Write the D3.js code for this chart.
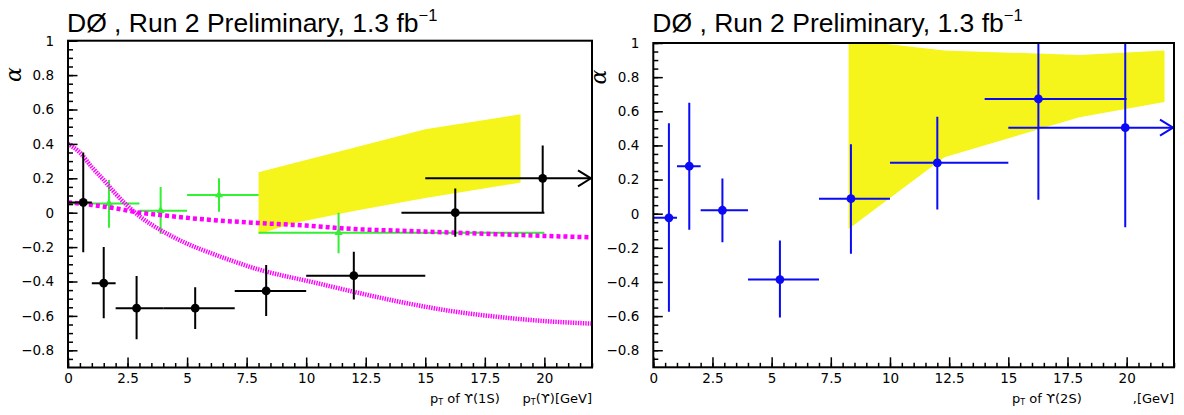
<!DOCTYPE html>
<html>
<head>
<meta charset="utf-8">
<script src="https://cdn.jsdelivr.net/npm/d3@7"></script>
<style>
body { margin: 0; background: #fff; }
svg { display: block; }
</style>
</head>
<body>
<svg width="1184" height="415"></svg>
<script>
var svg = d3.select('svg');

// axis ranges and ticks
var xDomain = [0, 22];
var yDomain = [-0.9, 1];
var xTickValues = [0, 2.5, 5, 7.5, 10, 12.5, 15, 17.5, 20];
var xTickLabels = ['0', '2.5', '5', '7.5', '10', '12.5', '15', '17.5', '20'];
var yTickValues = [-0.8, -0.6, -0.4, -0.2, 0, 0.2, 0.4, 0.6, 0.8, 1];
var yTickLabels = ['\u22120.8', '\u22120.6', '\u22120.4', '\u22120.2', '0', '0.2', '0.4', '0.6', '0.8', '1'];

// Upsilon(1S) polarization, black points
var ups1S_pt = [0.64, 1.5, 2.88, 5.34, 8.32, 12.0, 16.26, 19.93];
var ups1S_alpha = [0.06, -0.41, -0.555, -0.555, -0.455, -0.366, 0.0, 0.2];
var ups1S_ptLo = [0, 1, 2, 4, 7, 10, 14, 15];
var ups1S_ptHi = [1, 2, 4, 7, 10, 15, 20, 22];
var ups1S_errUp = [0.29, 0.21, 0.187, 0.121, 0.151, 0.139, 0.14, 0.19];
var ups1S_errDn = [0.29, 0.204, 0.181, 0.121, 0.145, 0.138, 0.14, 0.2];

// Upsilon(1S) other measurement, green triangles
var cdf_pt = [1.72, 3.89, 6.34, 11.36];
var cdf_alpha = [0.054, 0.012, 0.103, -0.116];
var cdf_ptLo = [0, 3, 5, 8];
var cdf_ptHi = [3, 5, 8, 20];
var cdf_errUp = [0.136, 0.138, 0.097, 0.116];
var cdf_errDn = [0.141, 0.136, 0.097, 0.12];

// theory band for 1S (yellow)
var band1S_pt = [8, 9.5, 12, 15, 19];
var band1S_hi = [0.235, 0.289, 0.378, 0.485, 0.572];
var band1S_lo = [-0.125, -0.06, 0.01, 0.085, 0.175];

// model curves (magenta)
var curveA_pt = [0, 0.5, 1, 1.5, 2, 2.5, 3, 4, 5, 6, 7, 8, 9, 10, 12, 14, 16, 18, 20, 22];
var curveA_alpha = [0.40, 0.35, 0.265, 0.19, 0.11, 0.04, -0.02, -0.11, -0.18, -0.235, -0.285, -0.33, -0.365, -0.395, -0.46, -0.52, -0.57, -0.605, -0.63, -0.645];
var curveB_pt = [0, 1, 2, 3, 4, 5, 6, 8, 10, 12, 14, 16, 18, 20, 22];
var curveB_alpha = [0.06, 0.045, 0.025, 0.0, -0.015, -0.03, -0.042, -0.06, -0.075, -0.095, -0.105, -0.115, -0.125, -0.135, -0.143];

// Upsilon(2S) polarization, blue points
var ups2S_pt = [0.66, 1.52, 2.92, 5.35, 8.35, 12.0, 16.27, 19.94];
var ups2S_alpha = [-0.024, 0.278, 0.02, -0.386, 0.088, 0.298, 0.672, 0.504];
var ups2S_ptLo = [0, 1, 2, 4, 7, 10, 14, 15];
var ups2S_ptHi = [1, 2, 4, 7, 10, 15, 20, 22];
var ups2S_errUp = [0.554, 0.372, 0.186, 0.229, 0.319, 0.27, 0.59, 0.583];
var ups2S_errDn = [0.551, 0.372, 0.187, 0.222, 0.323, 0.274, 0.59, 0.583];

// theory band for 2S (yellow)
var band2S_pt = [8.25, 12.3, 18, 21.6];
var band2S_hi = [1.02, 0.956, 0.93, 0.956];
var band2S_lo = [-0.09, 0.33, 0.565, 0.655];

var tickFont = 'DejaVu Sans';
var yellow = '#f5f51c';

function makePanel(id, left, right, top, bottom) {
    var p = {left: left, right: right, top: top, bottom: bottom};
    p.x = d3.scaleLinear().domain(xDomain).range([left, right]);
    p.y = d3.scaleLinear().domain(yDomain).range([bottom, top]);
    p.g = svg.append('g');
    p.g.append('clipPath').attr('id', id).append('rect')
        .attr('x', left).attr('y', top)
        .attr('width', right - left).attr('height', bottom - top);
    p.plot = p.g.append('g').attr('clip-path', 'url(#' + id + ')');
    return p;
}

function drawAxes(p, title, xTitle, xUnit) {
    var minorX = d3.range(0, 22.001, 0.5);
    var minorY = d3.range(-0.85, 1.001, 0.05);

    var ax = p.g.append('g').attr('transform', 'translate(0,' + p.bottom + ')');
    ax.call(d3.axisBottom(p.x).tickValues(minorX).tickSizeInner(-4.5).tickSizeOuter(0).tickFormat(''));
    ax.select('.domain').remove();
    var axM = p.g.append('g').attr('transform', 'translate(0,' + p.bottom + ')');
    axM.call(d3.axisBottom(p.x).tickValues(xTickValues).tickSizeInner(-10).tickSizeOuter(0).tickPadding(6)
        .tickFormat(function (d, i) { return xTickLabels[i]; }));
    axM.select('.domain').remove();

    var ay = p.g.append('g').attr('transform', 'translate(' + p.left + ',0)');
    ay.call(d3.axisLeft(p.y).tickValues(minorY).tickSizeInner(-5).tickSizeOuter(0).tickFormat(''));
    ay.select('.domain').remove();
    var ayM = p.g.append('g').attr('transform', 'translate(' + p.left + ',0)');
    ayM.call(d3.axisLeft(p.y).tickValues(yTickValues).tickSizeInner(-9.5).tickSizeOuter(0).tickPadding(14)
        .tickFormat(function (d, i) { return yTickLabels[i]; }));
    ayM.select('.domain').remove();

    p.g.selectAll('.tick line').attr('stroke', '#000').attr('stroke-width', 1.5);
    p.g.selectAll('.tick text').attr('font-family', tickFont).attr('font-size', 13.5).attr('fill', '#000');

    // frame
    p.g.append('rect')
        .attr('x', p.left).attr('y', p.top)
        .attr('width', p.right - p.left).attr('height', p.bottom - p.top)
        .attr('fill', 'none').attr('stroke', '#000').attr('stroke-width', 2);

    // title
    var t = svg.append('text')
        .attr('x', p.left - 1).attr('y', 32)
        .attr('font-family', 'Liberation Sans, Arial, sans-serif')
        .attr('font-size', 26.5).attr('fill', '#000');
    t.append('tspan').text(title);
    t.append('tspan').attr('font-size', 16.5).attr('dy', -11).text('\u22121');

    // y title
    svg.append('text')
        .attr('transform', 'translate(' + (p.left - 47) + ',' + (p.top + 34) + ') rotate(-90)')
        .attr('text-anchor', 'middle')
        .attr('font-family', 'DejaVu Serif, serif').attr('font-style', 'italic')
        .attr('font-size', 22).text('\u03b1');

    // x title
    var xt = svg.append('text')
        .attr('x', p.right - 162).attr('y', 403)
        .attr('font-family', tickFont).attr('font-size', 13);
    xt.append('tspan').text('p');
    xt.append('tspan').attr('font-size', 8).attr('dy', 2).text('T');
    xt.append('tspan').attr('dy', -2).text(' of ' + xTitle);
    svg.append('text')
        .attr('x', p.right).attr('y', 403).attr('text-anchor', 'end')
        .attr('font-family', tickFont).attr('font-size', 13)
        .call(function (s) {
            if (xUnit === 'full') {
                s.append('tspan').text('p');
                s.append('tspan').attr('font-size', 8).attr('dy', 2).text('T');
                s.append('tspan').attr('dy', -2).text('(\u03d2)[GeV]');
            } else {
                s.text(',[GeV]');
            }
        });
}

function drawBand(p, xs, lo, hi) {
    var rows = xs.map(function (d, i) { return {x: d, lo: lo[i], hi: hi[i]}; });
    var area = d3.area()
        .x(function (d) { return p.x(d.x); })
        .y0(function (d) { return p.y(d.lo); })
        .y1(function (d) { return p.y(d.hi); });
    p.plot.append('path').datum(rows).attr('d', area).attr('fill', yellow);
}

function drawCurve(p, xs, ys, dash, width) {
    var line = d3.line()
        .x(function (d) { return p.x(d[0]); })
        .y(function (d) { return p.y(d[1]); })
        .curve(d3.curveMonotoneX);
    p.plot.append('path').datum(d3.zip(xs, ys)).attr('d', line)
        .attr('fill', 'none').attr('stroke', '#ff00ff')
        .attr('stroke-width', width).attr('stroke-dasharray', dash);
}

function drawPoints(p, xs, ys, xlo, xhi, eUp, eDn, color, marker) {
    var rows = xs.map(function (d, i) {
        return {x: d, y: ys[i], lo: xlo[i], hi: xhi[i], up: eUp[i], dn: eDn[i]};
    });
    var g = p.plot.append('g').attr('stroke', color).attr('stroke-width', 2);
    g.selectAll('line.h').data(rows).enter().append('line')
        .attr('x1', function (d) { return p.x(d.lo); })
        .attr('x2', function (d) { return p.x(d.hi); })
        .attr('y1', function (d) { return p.y(d.y); })
        .attr('y2', function (d) { return p.y(d.y); });
    g.selectAll('line.v').data(rows).enter().append('line')
        .attr('x1', function (d) { return p.x(d.x); })
        .attr('x2', function (d) { return p.x(d.x); })
        .attr('y1', function (d) { return p.y(d.y + d.up); })
        .attr('y2', function (d) { return p.y(d.y - d.dn); });
    // open arrow for the last, open-ended bin
    g.selectAll('path.arrow').data(rows.filter(function (d) { return d.hi >= xDomain[1]; }))
        .enter().append('path')
        .attr('fill', 'none')
        .attr('d', function (d) {
            var ex = p.x(d.hi) - 1, ey = p.y(d.y);
            return 'M' + (ex - 13) + ',' + (ey - 8) + 'L' + ex + ',' + ey + 'L' + (ex - 13) + ',' + (ey + 8);
        });
    if (marker === 'circle') {
        p.plot.selectAll(null).data(rows).enter().append('circle')
            .attr('cx', function (d) { return p.x(d.x); })
            .attr('cy', function (d) { return p.y(d.y); })
            .attr('r', 4.4).attr('fill', color);
    } else {
        p.plot.selectAll(null).data(rows).enter().append('path')
            .attr('transform', function (d) { return 'translate(' + p.x(d.x) + ',' + p.y(d.y) + ')'; })
            .attr('d', d3.symbol(d3.symbolTriangle).size(28)).attr('fill', color);
    }
}

// left panel: Upsilon(1S)
var left = makePanel('clipL', 68, 592, 40.7, 367.5);
drawBand(left, band1S_pt, band1S_lo, band1S_hi);
drawPoints(left, cdf_pt, cdf_alpha, cdf_ptLo, cdf_ptHi, cdf_errUp, cdf_errDn, '#33f033', 'triangle');
drawCurve(left, curveA_pt, curveA_alpha, '1.4,1.1', 4.5);
drawCurve(left, curveB_pt, curveB_alpha, '4,3', 4.5);
drawPoints(left, ups1S_pt, ups1S_alpha, ups1S_ptLo, ups1S_ptHi, ups1S_errUp, ups1S_errDn, '#000', 'circle');
drawAxes(left, 'D\u00d8 , Run 2 Preliminary, 1.3 fb', '\u03d2(1S)', 'full');

// right panel: Upsilon(2S)
var right = makePanel('clipR', 653.3, 1174, 43, 367.3);
drawBand(right, band2S_pt, band2S_lo, band2S_hi);
drawPoints(right, ups2S_pt, ups2S_alpha, ups2S_ptLo, ups2S_ptHi, ups2S_errUp, ups2S_errDn, '#0a0af5', 'circle');
drawAxes(right, 'D\u00d8 , Run 2 Preliminary, 1.3 fb', '\u03d2(2S)', 'short');
</script>
</body>
</html>
